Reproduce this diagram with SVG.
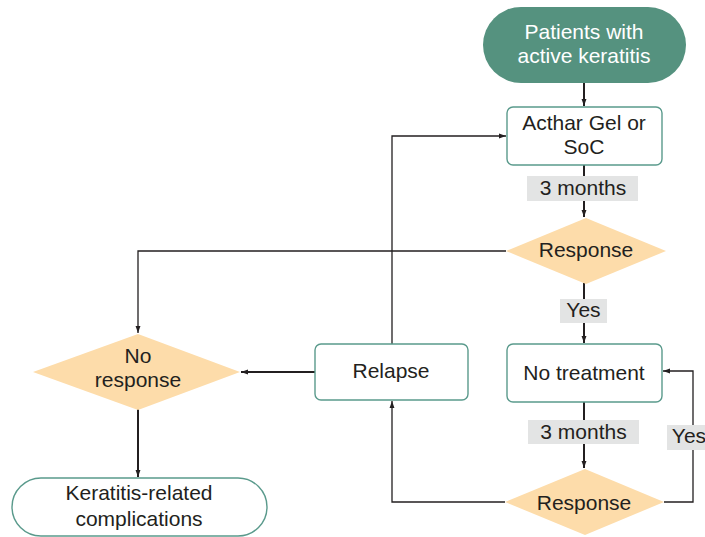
<svg xmlns="http://www.w3.org/2000/svg" width="705" height="537" viewBox="0 0 705 537">
<defs>
<marker id="ah" viewBox="0 0 10 10" refX="10" refY="5" markerWidth="7" markerHeight="7" markerUnits="userSpaceOnUse" orient="auto">
<path d="M0,1.5 L10,5 L0,8.5 Z" fill="#231f20"/>
</marker>
<style>
.t{font-family:"Liberation Sans",Arial,sans-serif;font-size:21px;fill:#231f20;text-anchor:middle}
.w{fill:#ffffff}
.box{fill:#ffffff;stroke:#5a9a8c;stroke-width:1.4}
.dia{fill:#fddcaa}
.lbl{fill:#e3e4e4}
.c{fill:none;stroke:#231f20;stroke-width:1.3}
.c2{fill:none;stroke:#231f20;stroke-width:2}
</style>
</defs>
<rect width="705" height="537" fill="#ffffff"/>
<g id="connectors">
<path class="c2" d="M584,83 V106" marker-end="url(#ah)"/>
<path class="c2" d="M584,165 V176"/>
<path class="c2" d="M584,201 V217" marker-end="url(#ah)"/>
<path class="c2" d="M584,283 V299"/>
<path class="c2" d="M584,323 V343" marker-end="url(#ah)"/>
<path class="c2" d="M584,402 V420"/>
<path class="c2" d="M584,444 V468" marker-end="url(#ah)"/>
<path class="c" d="M506,251 H138 V333" marker-end="url(#ah)"/>
<path class="c2" d="M138,409 V477" marker-end="url(#ah)"/>
<path class="c2" d="M315,372 H241" marker-end="url(#ah)"/>
<path class="c" d="M392,344 V136 H506" marker-end="url(#ah)"/>
<path class="c" d="M505,502 H392 V401" marker-end="url(#ah)"/>
<path class="c" d="M664,502 H693 V371 H663" marker-end="url(#ah)"/>
</g>
<g id="labels">
<rect class="lbl" x="527" y="176" width="111" height="25"/>
<text class="t" x="583" y="195">3 months</text>
<rect class="lbl" x="560" y="299" width="47" height="24"/>
<text class="t" x="583.5" y="317">Yes</text>
<rect class="lbl" x="528" y="420" width="111" height="24"/>
<text class="t" x="583.5" y="439">3 months</text>
<rect class="lbl" x="667" y="425" width="40" height="25"/>
<text class="t" x="689" y="443">Yes</text>
</g>
<g id="start">
<rect x="483" y="7" width="203" height="76" rx="38" fill="#55927f"/>
<text class="t w" x="584" y="39">Patients with</text>
<text class="t w" x="584" y="63">active keratitis</text>
</g>
<g id="acthar">
<rect class="box" x="507" y="107" width="155" height="58" rx="6"/>
<text class="t" x="584" y="130">Acthar Gel or</text>
<text class="t" x="584" y="154">SoC</text>
</g>
<g id="response1">
<polygon class="dia" points="586,218 666,251 586,284 506,251"/>
<text class="t" x="586" y="257">Response</text>
</g>
<g id="notreatment">
<rect class="box" x="507" y="344" width="155" height="58" rx="6"/>
<text class="t" x="584" y="380">No treatment</text>
</g>
<g id="response2">
<polygon class="dia" points="585,469 664,502 585,535 505,502"/>
<text class="t" x="584" y="510">Response</text>
</g>
<g id="relapse">
<rect class="box" x="315" y="344" width="153" height="56" rx="6"/>
<text class="t" x="391" y="378">Relapse</text>
</g>
<g id="noresponse">
<polygon class="dia" points="138,334 240,372 138,410 33,372"/>
<text class="t" x="138" y="363">No</text>
<text class="t" x="138" y="387">response</text>
</g>
<g id="complications">
<rect class="box" x="12" y="478" width="255" height="58" rx="29"/>
<text class="t" x="139" y="500">Keratitis-related</text>
<text class="t" x="139" y="526">complications</text>
</g>
</svg>
